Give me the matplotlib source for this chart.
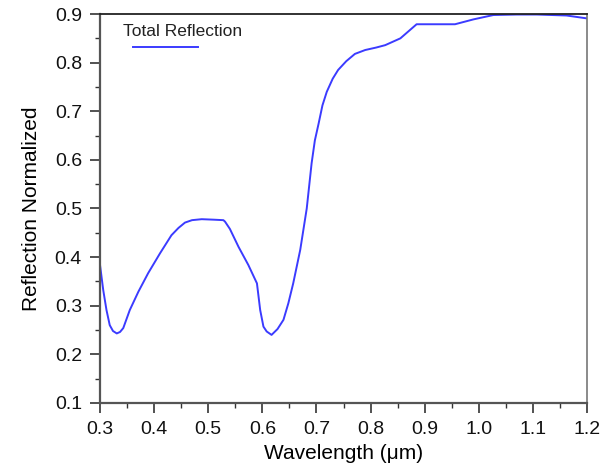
import matplotlib.pyplot as plt
from matplotlib.ticker import MultipleLocator

plt.rcParams['font.family'] = ['Liberation Sans', 'DejaVu Sans']

# values
wavelength = [0.300, 0.306, 0.312, 0.318, 0.324, 0.331, 0.337, 0.343, 0.355,
              0.371, 0.389, 0.411, 0.432, 0.445, 0.457, 0.470, 0.488, 0.510,
              0.528, 0.531, 0.540, 0.556, 0.574, 0.590, 0.596, 0.602, 0.608,
              0.617, 0.628, 0.639, 0.648, 0.657, 0.670, 0.682, 0.691, 0.697,
              0.704, 0.711, 0.719, 0.730, 0.740, 0.755, 0.771, 0.790, 0.810,
              0.827, 0.855, 0.885, 0.956, 0.990, 1.027, 1.070, 1.107, 1.162,
              1.200]
reflection = [0.384, 0.332, 0.291, 0.260, 0.248, 0.243, 0.246, 0.254, 0.291,
              0.329, 0.367, 0.408, 0.445, 0.460, 0.471, 0.476, 0.478, 0.477,
              0.476, 0.473, 0.458, 0.421, 0.384, 0.346, 0.291, 0.257, 0.247,
              0.240, 0.252, 0.271, 0.305, 0.346, 0.415, 0.500, 0.593, 0.640,
              0.675, 0.712, 0.740, 0.767, 0.785, 0.803, 0.818, 0.826, 0.831,
              0.836, 0.850, 0.879, 0.879, 0.889, 0.898, 0.899, 0.899, 0.897,
              0.891]
legend_label = 'Total Reflection'

fig = plt.figure(figsize=(6.15, 4.68), dpi=100)
ax = fig.add_axes([0.1626, 0.139, 0.792, 0.831])

line, = ax.plot(wavelength, reflection, color='#3b3bff', lw=1.4)

ax.set_xlim(0.3, 1.2)
ax.set_ylim(0.1, 0.9)
ax.xaxis.set_major_locator(MultipleLocator(0.1))
ax.xaxis.set_minor_locator(MultipleLocator(0.05))
ax.yaxis.set_major_locator(MultipleLocator(0.1))
ax.yaxis.set_minor_locator(MultipleLocator(0.05))
ax.xaxis.set_major_formatter(lambda v, p: f'{v:.1f}')
ax.yaxis.set_major_formatter(lambda v, p: f'{v:.1f}')

ax.tick_params(which='major', direction='out', length=7, width=1.2,
               color='#333333', labelsize=14, labelcolor='#111111', pad=6)
ax.tick_params(which='minor', direction='out', length=3.6, width=1.0,
               color='#333333')

for side in ['left', 'bottom']:
    ax.spines[side].set_linewidth(1.6)
    ax.spines[side].set_color('#555555')
ax.spines['top'].set_linewidth(1.3)
ax.spines['top'].set_color('#222222')
ax.spines['right'].set_linewidth(1.2)
ax.spines['right'].set_color('#777777')

ax.set_xlabel('Wavelength (\u03bcm)', fontsize=15, labelpad=4)
ax.set_ylabel('Reflection Normalized', fontsize=15, labelpad=10)

# legend: label above a short sample line
ax.text(0.047, 0.9434, legend_label, transform=ax.transAxes,
        fontsize=12.5, va='baseline', ha='left', color='#222222')
ax.plot([0.068, 0.201], [0.915, 0.915], transform=ax.transAxes,
        color=line.get_color(), lw=line.get_linewidth())

fig.savefig('out.png', dpi=100)
